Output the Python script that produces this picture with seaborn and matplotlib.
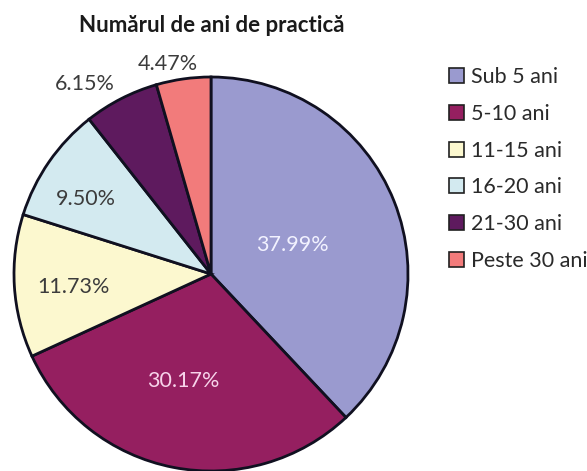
import matplotlib
matplotlib.use("Agg")
import matplotlib.pyplot as plt
import seaborn as sns
from matplotlib.patches import Patch
import numpy as np

# ---- data ----
categories = ["Sub 5 ani", "5-10 ani", "11-15 ani", "16-20 ani", "21-30 ani", "Peste 30 ani"]
values = [37.99, 30.17, 11.73, 9.50, 6.15, 4.47]
title = "Numărul de ani de practică"

# ---- style ----
colors = ["#9a9acf", "#951f60", "#fcf8cf", "#d3eaf0", "#5e1a5e", "#f27b7b"]
text_colors = ["#f2f2ff", "#f7d3ea", "#3c3c3c", "#3c3c3c", "#3c3c3c", "#3c3c3c"]
label_radius = [0.44, 0.56, 0.70, 0.74, 1.16, 1.09]
label_angle_shift = [-2.0, -3.5, 2.0, 3.5, 6.5, 3.5]

sns.set_theme(style="white")
plt.rcParams["font.family"] = ["Lato", "DejaVu Sans"]

W, H = 587, 471
fig = plt.figure(figsize=(W / 100, H / 100), dpi=100)
fig.patch.set_facecolor("white")

cx, cy, R = 211, 274, 197
ax = fig.add_axes([(cx - R) / W, (H - cy - R) / H, 2 * R / W, 2 * R / H])
wedges, _ = ax.pie(values, colors=colors, startangle=90, counterclock=False,
                   radius=1.0,
                   wedgeprops=dict(edgecolor="#101020", linewidth=2.0))
ax.set_xlim(-1, 1)
ax.set_ylim(-1, 1)
ax.set_aspect("auto")
ax.axis("off")

for w, v, tc, r, da in zip(wedges, values, text_colors, label_radius, label_angle_shift):
    ang = np.deg2rad((w.theta1 + w.theta2) / 2 + da)
    ax.text(r * np.cos(ang), r * np.sin(ang), f"{v:.2f}%", ha="center", va="center",
            fontsize=15.5, color=tc, clip_on=False)

fig.text(212 / W, 1 - 26 / H, title, ha="center", va="center",
         fontsize=16, fontweight="bold", color="#1a1a1a")

handles = [Patch(facecolor=c, edgecolor="#202020", linewidth=1.2) for c in colors]
fig.legend(handles, categories, loc="upper left", bbox_to_anchor=(449 / W, 1 - 67 / H),
           frameon=False, fontsize=15.5, handlelength=0.7, handleheight=0.7,
           handletextpad=0.3, labelspacing=0.78, borderpad=0, borderaxespad=0,
           labelcolor="#2a2a2a")

fig.savefig("out.png", dpi=100, facecolor="white")
